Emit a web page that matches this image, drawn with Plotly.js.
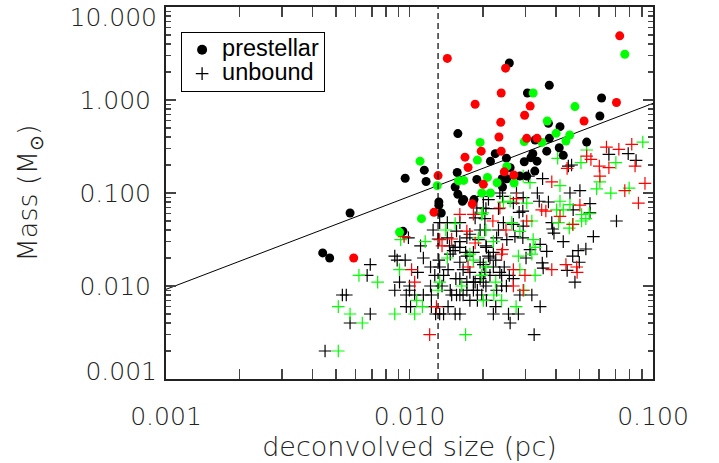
<!DOCTYPE html>
<html>
<head>
<meta charset="utf-8">
<script src="https://cdn.plot.ly/plotly-3.0.1.min.js"></script>
<style>
html,body{margin:0;padding:0;background:#fff;}
#chart{width:719px;height:463px;}
.legendtext{font-size:23.5px !important;}
</style>
</head>
<body>
<div id="chart"></div>
<script>
// ---- data (size in pc, mass in Msun) ----
const preBlackSize = [0.0257,0.0375,0.0305,0.0615,0.0605,0.0372,0.0415,0.0158,0.0534,0.0375,0.0328,0.0412,0.0366,0.0321,0.0315,0.0428,0.0225,0.0250,0.0215,0.0296,0.0334,0.0259,0.0327,0.0115,0.0096,0.0117,0.0157,0.0303,0.0284,0.0240,0.0251,0.0189,0.0154,0.0158,0.0241,0.0167,0.0184,0.0132,0.0132,0.0135,0.0094,0.0165,0.0057,0.0044,0.0047];
const preBlackMass = [2.5,1.44,1.19,1.05,0.673,0.561,0.517,0.435,0.353,0.387,0.371,0.307,0.282,0.265,0.24,0.254,0.265,0.237,0.22,0.217,0.22,0.187,0.172,0.176,0.144,0.133,0.166,0.152,0.152,0.1425,0.1425,0.14,0.116,0.097,0.116,0.085,0.085,0.080,0.074,0.061,0.0387,0.0815,0.061,0.0227,0.020];

const preRedSize = [0.073,0.0143,0.0248,0.0238,0.0186,0.0313,0.0297,0.0708,0.0237,0.0521,0.0233,0.0303,0.0334,0.0197,0.0238,0.0169,0.0174,0.0131,0.0268,0.0245,0.0201,0.0126,0.0181,0.0059];
const preRedMass = [4.9,2.8,2.2,1.19,0.90,0.86,0.685,0.94,0.575,0.594,0.40,0.387,0.387,0.282,0.282,0.243,0.188,0.154,0.156,0.169,0.124,0.062,0.0765,0.020];

const preGreenSize = [0.0766,0.0322,0.0478,0.0368,0.040,0.0455,0.0439,0.0296,0.035,0.0195,0.019,0.01105,0.0251,0.0209,0.0159,0.0167,0.0229,0.0130,0.0269,0.0198,0.0215,0.0112,0.0091];
const preGreenMass = [3.1,1.19,0.85,0.594,0.438,0.42,0.362,0.357,0.35,0.35,0.226,0.22,0.193,0.147,0.135,0.1365,0.129,0.12,0.128,0.10,0.10,0.053,0.038];

const unbBlackSize = [0.0659,0.0791,0.0852,0.0449,0.0463,0.0501,0.0456,0.0352,0.0308,0.0551,0.0551,0.0708,0.0569,0.053,0.0468,0.0428,0.0392,0.047,0.0335,0.0372,0.0293,0.0282,0.0267,0.0241,0.0211,0.0201,0.0232,0.0292,0.0384,0.0387,0.0243,0.0267,0.0232,0.0293,0.0204,0.0228,0.0271,0.0251,0.0292,0.0344,0.0493,0.0366,0.03125,0.0207,0.0221,0.0341,0.0351,0.0354,0.0498,0.0444,0.0478,0.0318,0.0284,0.0344,0.0255,0.028,0.0221,0.0259,0.0325,0.0198,0.0207,0.0226,0.0239,0.0239,0.0267,0.0206,0.0211,0.0226,0.0301,0.0069,0.0067,0.0089,0.0096,0.0108,0.0122,0.0132,0.0147,0.0144,0.0127,0.0138,0.0155,0.0091,0.0100,0.0100,0.0087,0.0097,0.0105,0.0122,0.0136,0.0147,0.0156,0.0166,0.0149,0.0161,0.0177,0.019,0.0097,0.0101,0.0123,0.0144,0.0133,0.0128,0.0154,0.0161,0.0069,0.0166,0.0177,0.0195,0.0172,0.0053,0.0055,0.0057,0.0045,0.0114,0.0138,0.0161,0.0133,0.0143,0.0125,0.0161,0.0156,0.0099,0.0111,0.0131,0.0143,0.0161,0.0172,0.0154,0.0189,0.0206,0.0186,0.0195,0.0177,0.0192,0.0206,0.0170,0.0146,0.0087,0.0201,0.0204,0.0195,0.0204,0.0183,0.0172,0.0114,0.0214,0.0201,0.0235,0.0275,0.0133,0.0151,0.0161,0.0183,0.0161,0.0172,0.0186,0.0201,0.0183,0.0123,0.019,0.0221,0.0245,0.0235,0.0214,0.0257,0.0228,0.0250];
const unbBlackMass = [0.26,0.265,0.224,0.195,0.20,0.106,0.10,0.1425,0.152,0.077,0.061,0.050,0.034,0.025,0.021,0.030,0.037,0.066,0.10,0.080,0.089,0.062,0.078,0.092,0.085,0.069,0.068,0.064,0.048,0.041,0.048,0.046,0.040,0.044,0.040,0.033,0.034,0.0315,0.033,0.028,0.024,0.0236,0.0246,0.026,0.023,0.0815,0.0177,0.0156,0.018,0.0147,0.011,0.008,0.008,0.006,0.005,0.005,0.005,0.004,0.003,0.008,0.007,0.006,0.013,0.010,0.012,0.010,0.021,0.019,0.020,0.017,0.013,0.019,0.019,0.014,0.016,0.019,0.022,0.015,0.013,0.013,0.012,0.011,0.010,0.009,0.009,0.008,0.008,0.010,0.010,0.009,0.008,0.008,0.008,0.008,0.007,0.009,0.006,0.006,0.006,0.006,0.005,0.005,0.005,0.005,0.005,0.015,0.014,0.012,0.021,0.008,0.008,0.004,0.002,0.020,0.005,0.026,0.048,0.048,0.040,0.048,0.039,0.033,0.027,0.032,0.033,0.030,0.033,0.026,0.069,0.068,0.054,0.040,0.036,0.0315,0.027,0.023,0.027,0.021,0.092,0.053,0.018,0.014,0.011,0.009,0.008,0.020,0.017,0.10,0.10,0.016,0.024,0.018,0.023,0.012,0.011,0.011,0.011,0.009,0.008,0.007,0.016,0.016,0.014,0.013,0.013,0.009,0.010];

const unbRedSize = [0.0644,0.0724,0.0818,0.0534,0.0556,0.0602,0.0659,0.0844,0.0605,0.0927,0.0766,0.0444,0.0384,0.0871,0.0235,0.0275,0.0349,0.0363,0.0468,0.0501,0.022,0.0303,0.0249,0.0415,0.0241,0.0102,0.0105,0.0174,0.0129,0.0121,0.0439,0.0486,0.0488,0.0384,0.0298,0.0267,0.0293,0.0267,0.0239,0.0136,0.0161,0.0133,0.0172,0.0183,0.0186,0.0149,0.0095];
const unbRedMass = [0.312,0.295,0.334,0.249,0.23,0.195,0.187,0.195,0.152,0.127,0.106,0.184,0.132,0.078,0.069,0.087,0.066,0.064,0.046,0.074,0.050,0.050,0.040,0.056,0.0246,0.015,0.011,0.016,0.006,0.003,0.017,0.016,0.014,0.015,0.013,0.010,0.009,0.015,0.022,0.027,0.059,0.0315,0.039,0.059,0.029,0.032,0.034];

const unbGreenSize = [0.0908,0.0534,0.0406,0.0506,0.0704,0.0605,0.0587,0.0671,0.0798,0.0415,0.0547,0.0509,0.047,0.0293,0.03125,0.0259,0.0243,0.0303,0.0415,0.0402,0.0428,0.0456,0.0509,0.053,0.0453,0.0318,0.0263,0.0284,0.0322,0.0221,0.0198,0.028,0.0328,0.0409,0.0091,0.0074,0.0107,0.0113,0.0087,0.0105,0.0064,0.0170,0.0143,0.0131,0.0164,0.0183,0.0328,0.0295,0.0239,0.0274,0.0222,0.0226,0.0206,0.0198,0.0284,0.0318,0.0201,0.0062,0.0051,0.0057,0.0051,0.0133,0.0154,0.0141,0.0116,0.0192,0.020,0.0177,0.0206,0.0092];
const unbGreenMass = [0.353,0.29,0.236,0.212,0.212,0.132,0.111,0.0995,0.113,0.12,0.060,0.050,0.046,0.152,0.129,0.0815,0.0796,0.078,0.0815,0.066,0.066,0.075,0.0587,0.053,0.042,0.050,0.048,0.0387,0.0315,0.030,0.0587,0.021,0.026,0.048,0.015,0.011,0.007,0.006,0.005,0.005,0.004,0.003,0.020,0.009,0.010,0.019,0.013,0.009,0.007,0.006,0.008,0.011,0.016,0.013,0.015,0.022,0.007,0.013,0.006,0.005,0.002,0.011,0.047,0.040,0.030,0.033,0.061,0.022,0.040,0.0315];

const fitSize = [0.001, 0.1];
const fitMass = [0.0092, 0.92];
const resolutionLimit = 0.0131;
const xTickVals = [0.001, 0.01, 0.1];
const xTickText = ['0.001', '0.010', '0.100'];
const yTickVals = [0.01, 0.1, 1];
const yTickText = ['0.010', '0.100', '1.000'];
// end labels of the mass axis sit just inside the frame, as in the original
const yEdgeLabelVals = [0.00122, 7.8];
const yEdgeLabelText = ['0.001', '10.000'];

// ---- traces ----
const crossStyle = (c) => ({symbol: 'cross-thin', size: 9, line: {color: c, width: 1.2}, color: c});
const dotStyle = (c) => ({symbol: 'circle', size: 9, color: c, line: {width: 0}});

const traces = [
  {x: fitSize, y: fitMass, mode: 'lines', line: {color: '#000', width: 1}, showlegend: false, hoverinfo: 'skip'},
  {x: unbBlackSize, y: unbBlackMass, mode: 'markers', marker: crossStyle('#000'), showlegend: false},
  {x: unbGreenSize, y: unbGreenMass, mode: 'markers', marker: crossStyle('#00ff00'), showlegend: false},
  {x: unbRedSize, y: unbRedMass, mode: 'markers', marker: crossStyle('#ff0000'), showlegend: false},
  {x: preBlackSize, y: preBlackMass, mode: 'markers', marker: dotStyle('#000'), showlegend: false},
  {x: preGreenSize, y: preGreenMass, mode: 'markers', marker: dotStyle('#00ff00'), showlegend: false},
  {x: preRedSize, y: preRedMass, mode: 'markers', marker: dotStyle('#ff0000'), showlegend: false},
  {x: [null], y: [null], yaxis: 'y2', mode: 'markers', showlegend: false, hoverinfo: 'skip'},
  {x: [null], y: [null], mode: 'markers', name: 'prestellar', marker: {symbol: 'circle', size: 10, color: '#000'}},
  {x: [null], y: [null], mode: 'markers', name: 'unbound', marker: {symbol: 'cross-thin', size: 9, line: {color: '#000', width: 1.3}}}
];

const axisFont = {family: 'DejaVu Sans', size: 25, color: '#222', weight: 200};
const titleFont = {family: 'DejaVu Sans', size: 27, color: '#222', weight: 200};
const common = {
  type: 'log', showgrid: false, zeroline: false,
  showline: true, linecolor: '#222', linewidth: 2, mirror: 'allticks',
  ticks: 'inside', ticklen: 10, tickwidth: 1.5, tickcolor: '#444',
  tickfont: axisFont,
  minor: {ticks: 'inside', ticklen: 5, tickwidth: 1.5, tickcolor: '#444', dtick: 'D1', showgrid: false}
};

const layout = {
  width: 719, height: 463,
  margin: {l: 166, r: 66, t: 7, b: 84},
  paper_bgcolor: '#fff', plot_bgcolor: '#fff',
  showlegend: true,
  legend: {x: 0.031, y: 0.933, xanchor: 'left', yanchor: 'top', bordercolor: '#000', borderwidth: 1,
           bgcolor: '#fff', font: {family: 'Liberation Sans', size: 16, color: '#000'}, tracegroupgap: 0},
  xaxis: Object.assign({}, common, {range: [-3, -1], tickmode: 'array', tickvals: xTickVals, ticktext: xTickText, ticklabelstandoff: 14,
    title: {text: 'deconvolved size (pc)', font: titleFont, standoff: 6}}),
  yaxis: Object.assign({}, common, {range: [-3, 1], tickmode: 'array', tickvals: yTickVals, ticktext: yTickText, ticklabelstandoff: 8,
    title: {text: 'Mass (M<sub>⊙</sub>)', font: titleFont, standoff: 34}}),
  yaxis2: {type: 'log', range: [-3, 1], overlaying: 'y', side: 'left', showgrid: false, zeroline: false, showline: false,
    ticks: '', tickmode: 'array', tickvals: yEdgeLabelVals, ticktext: yEdgeLabelText, tickfont: axisFont, ticklabelstandoff: 8},
  shapes: [{type: 'line', xref: 'x', yref: 'paper', x0: resolutionLimit, x1: resolutionLimit, y0: 0, y1: 1,
            line: {color: '#000', width: 1.2, dash: '6px,4px'}}]
};

Plotly.newPlot('chart', traces, layout, {staticPlot: true, displayModeBar: false});
</script>
</body>
</html>
